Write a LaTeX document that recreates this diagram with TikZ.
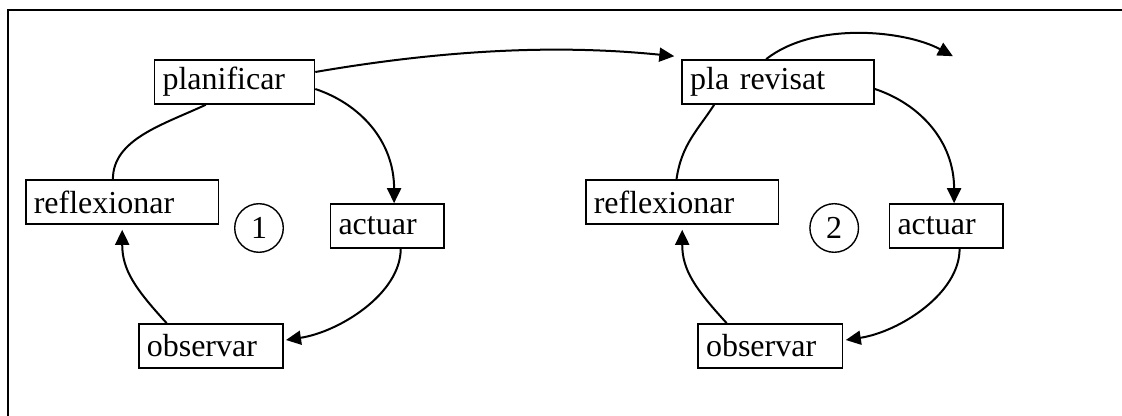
\documentclass[tikz,border=0pt]{standalone}
\usepackage{fontspec}
\setmainfont{Liberation Serif}
\usetikzlibrary{arrows.meta,calc}

\tikzset{
  stage/.style={draw, line width=0.8pt, inner xsep=4pt, inner ysep=0pt,
    minimum height=22pt, align=left, text width=#1,
    font=\fontsize{16}{19}\selectfont},
  cycle/.style={draw, circle, line width=0.7pt, inner sep=0pt,
    minimum size=24.3pt, font=\fontsize{16}{19}\selectfont},
  flow/.style={line width=1pt, -{Triangle[length=7.5pt,width=7pt]}},
  link/.style={line width=1pt}
}

\begin{document}
\begin{tikzpicture}[x=0.5pt, y=-0.5pt]
  \useasboundingbox (0,0) rectangle (1122,416);
  % frame
  \draw[line width=1pt] (8,416) -- (8,10) -- (1122,10);

  % first cycle
  \node[stage=72pt] (plan) at (234.5,82) {planificar};
  \node[stage=88.4pt] (refl) at (122.2,202) {reflexionar};
  \node[stage=48.6pt] (act) at (387.1,226) {actuar};
  \node[stage=64.2pt] (obs) at (211,346) {observar};
  \node[cycle] (cyc1) at (259,228) {1};

  % second cycle
  \node[stage=88pt] (plarev) at (778.1,82) {pla revisat};
  \node[stage=88.4pt] (refl2) at (682.2,202) {reflexionar};
  \node[stage=48.6pt] (act2) at (946.1,226) {actuar};
  \node[stage=64.2pt] (obs2) at (770.2,346) {observar};
  \node[cycle] (cyc2) at (834.2,228) {2};

  \coordinate (next) at ($(plarev.north east)+(78,-3)$);

  % arrows of cycle 1
  \draw[flow] ($(plan.east)+(0,-10)$) .. controls +(128,-22) and +(-118,-12) .. ($(plarev.north west)+(-7,-3)$);
  \draw[flow] ($(plan.east)+(0,7)$) .. controls +(45,15) and +(0,-62) .. ($(act.north)+(7,0)$);
  \draw[flow] ($(act.south)+(13.6,0)$) .. controls +(0,45) and +(53,-8) .. ($(obs.east)+(2,-6)$);
  \draw[flow] ($(obs.north)+(-44.3,0)$) .. controls +(-32,-35) and +(0,40) .. ($(refl.south)+(0,5)$);
  \draw[link] ($(refl.north)+(-9.3,0)$) .. controls +(0,-40) and +(-43,20) .. ($(plan.south)+(-28.8,0)$);

  % arrows of cycle 2
  \draw[flow] ($(plarev.north)+(-12,0)$) .. controls +(48,-38) and +(-48,-26) .. (next);
  \draw[flow] ($(plarev.east)+(0,7)$) .. controls +(45,15) and +(0,-62) .. ($(act2.north)+(8,0)$);
  \draw[flow] ($(act2.south)+(13.5,0)$) .. controls +(0,45) and +(53,-8) .. ($(obs2.east)+(2.6,-6)$);
  \draw[flow] ($(obs2.north)+(-43.5,0)$) .. controls +(-32,-35) and +(0,40) .. ($(refl2.south)+(0,5)$);
  \draw[link] ($(refl2.north)+(-5.7,0)$) .. controls +(5,-35) and +(-16,25) .. ($(plarev.south)+(-64,0)$);
\end{tikzpicture}
\end{document}
